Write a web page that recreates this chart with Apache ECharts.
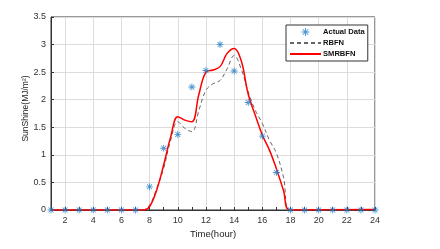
<!DOCTYPE html>
<html><head><meta charset="utf-8">
<script src="https://cdn.jsdelivr.net/npm/echarts@6/dist/echarts.min.js"></script>
<style>html,body{margin:0;padding:0;background:#fff}#c{width:440px;height:249px}</style>
</head><body><div id="c"></div>
<script>
const hours = [1,2,3,4,5,6,7,8,9,10,11,12,13,14,15,16,17,18,19,20,21,22,23,24];
const actual = [0,0,0,0,0,0,0,0.42,1.12,1.37,2.23,2.53,3.0,2.52,1.95,1.34,0.68,0,0,0,0,0,0,0];
const rbfnX = [1,7.5,8,8.5,9,9.5,10,10.5,11,11.5,12,12.5,13,13.5,14,14.5,15,15.5,16,16.5,17,17.5,18,24];
const rbfnY = [0,0,0.09,0.39,0.76,1.27,1.6,1.48,1.42,1.81,2.17,2.29,2.35,2.56,2.8,2.56,2.14,1.81,1.57,1.27,1.03,0.6,0,0];
const smX = [1,7.6,8,8.5,9,9.5,10,10.5,11,11.5,12,12.5,13,13.5,14,14.5,15,15.5,16,16.5,17,17.5,18,24];
const smY = [0,0,0.06,0.36,0.82,1.33,1.69,1.63,1.6,2.1,2.5,2.54,2.6,2.84,2.93,2.71,2.1,1.72,1.36,1.09,0.75,0.36,0,0.01];
const xTicks = [2,4,6,8,10,12,14,16,18,20,22,24];

const pair = (xs, ys) => xs.map((x, i) => [x, ys[i]]);
const star = 'path://M0,4.4H10V5.6H0Z M4.4,0H5.6V10H4.4Z M1.9,1.1L8.9,8.1L8.1,8.9L1.1,1.9Z M8.1,1.1L8.9,1.9L1.9,8.9L1.1,8.1Z';
const hidden = {opacity: 0};

const chart = echarts.init(document.getElementById('c'), null, {renderer: 'canvas'});
chart.setOption({
  animation: false,
  textStyle: {fontFamily: 'Liberation Sans, Arial, sans-serif'},
  grid: {left: 51, right: 65, top: 17, bottom: 39, show: true, borderColor: '#333', borderWidth: 1, backgroundColor: 'transparent'},
  legend: {
    left: 286, top: 25, orient: 'vertical', backgroundColor: '#fff', borderColor: '#333', borderWidth: 1,
    padding: [3, 3, 3, 3], itemGap: 3, itemWidth: 31, itemHeight: 8,
    textStyle: {fontSize: 7.6, fontWeight: 'bold', color: '#111', padding: [0, 0, 0, -3]},
    data: [
      {name: 'Actual Data'},
      {name: 'RBFN', itemStyle: hidden},
      {name: 'SMRBFN', itemStyle: hidden}
    ]
  },
  xAxis: {
    type: 'value', min: 1, max: 24, interval: 1,
    name: 'Time(hour)', nameLocation: 'middle', nameGap: 19, nameMoveOverlap: false,
    nameTextStyle: {fontSize: 9.5, color: '#222'},
    axisLine: {show: true, lineStyle: {color: '#333'}},
    axisTick: {inside: true, length: 3, lineStyle: {color: ['none', '#333']}},
    axisLabel: {fontSize: 9, color: '#333', margin: 6, formatter: v => xTicks.includes(v) ? String(v) : ''},
    splitLine: {show: true, lineStyle: {color: ['rgba(0,0,0,0)', '#dcdcdc'], width: 1}}
  },
  yAxis: {
    type: 'value', min: 0, max: 3.5, interval: 0.5,
    name: 'SunShine(MJ/m²)', nameLocation: 'middle', nameGap: 21, nameRotate: 90, nameMoveOverlap: false,
    nameTextStyle: {fontSize: 8.5, color: '#222', padding: [0, 0, 0, 10]},
    axisLine: {show: true, lineStyle: {color: '#333'}},
    axisTick: {show: true, inside: true, length: 3, lineStyle: {color: '#333'}},
    axisLabel: {fontSize: 9, color: '#333', margin: 5},
    splitLine: {show: true, lineStyle: {color: '#dcdcdc', width: 1}}
  },
  series: [
    {name: 'RBFN', type: 'line', data: pair(rbfnX, rbfnY), smooth: 0.4, showSymbol: false, symbol: 'none',
     lineStyle: {color: '#666', width: 1, type: [4, 3]}, itemStyle: {color: '#666'}, z: 3},
    {name: 'SMRBFN', type: 'line', data: pair(smX, smY), smooth: 0.4, showSymbol: false, symbol: 'none',
     lineStyle: {color: '#ff0000', width: 1.5}, itemStyle: {color: '#ff0000'}, z: 4},
    {name: 'Actual Data', type: 'scatter', data: pair(hours, actual), symbol: star, symbolSize: 7,
     itemStyle: {color: '#1a7ac6'}, z: 5}
  ]
});
</script></body></html>
